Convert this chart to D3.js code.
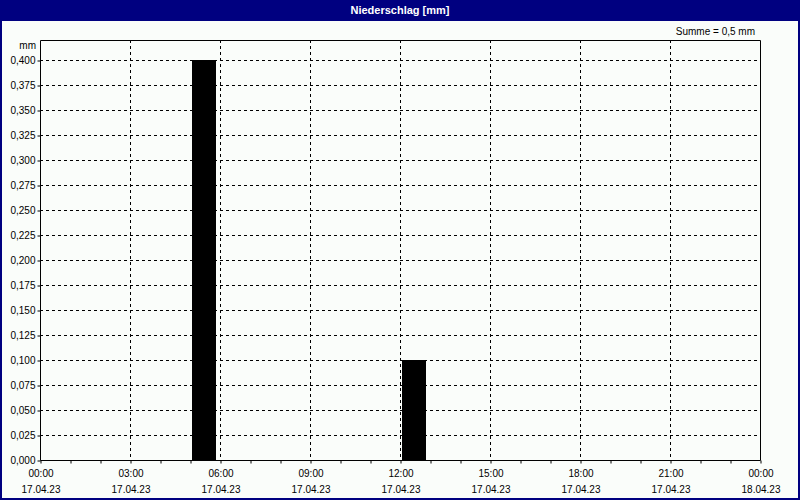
<!DOCTYPE html>
<html>
<head>
<meta charset="utf-8">
<script src="https://cdn.jsdelivr.net/npm/d3@7"></script>
<style>
  body { margin: 0; background: #fff; }
  svg { display: block; font-family: "Liberation Sans", Arial, sans-serif; }
</style>
</head>
<body>
<div id="chart"></div>
<script>
// precipitation per hour (start hour of interval, mm)
const barHours = [5, 12];
const barValues = [0.4, 0.1];

const yTicks = d3.range(0, 0.4001, 0.025);
const xTickHours = [0, 3, 6, 9, 12, 15, 18, 21, 24];
const xTimeLabels = ["00:00", "03:00", "06:00", "09:00", "12:00", "15:00", "18:00", "21:00", "00:00"];
const xDateLabels = ["17.04.23", "17.04.23", "17.04.23", "17.04.23", "17.04.23", "17.04.23", "17.04.23", "17.04.23", "18.04.23"];

const title = "Niederschlag [mm]";
const sumLabel = "Summe = 0,5 mm";
const unitLabel = "mm";

const W = 800, H = 500;
const plot = { left: 40, top: 40, right: 760, bottom: 460 };

const svg = d3.select("#chart").append("svg")
  .attr("width", W)
  .attr("height", H);

/* background + frame */
svg.append("rect")
  .attr("x", 0).attr("y", 0).attr("width", W).attr("height", H)
  .attr("fill", "#fafdfa");
svg.append("rect")
  .attr("x", 1).attr("y", 1).attr("width", W - 2).attr("height", H - 2)
  .attr("fill", "none").attr("stroke", "#000080").attr("stroke-width", 2);

/* title bar */
svg.append("rect")
  .attr("x", 0).attr("y", 0).attr("width", W).attr("height", 21)
  .attr("fill", "#000080");
svg.append("text")
  .attr("x", W / 2).attr("y", 14)
  .attr("text-anchor", "middle")
  .attr("fill", "#fff")
  .attr("font-size", "11px")
  .attr("font-weight", "bold")
  .text(title);

const x = d3.scaleLinear().domain([0, 24]).range([plot.left, plot.right]);
const y = d3.scaleLinear().domain([0, 0.42]).range([plot.bottom, plot.top]);

const fmt = (v) => d3.format(".3f")(v).replace(".", ",");

/* grid */
const grid = svg.append("g").attr("class", "grid")
  .attr("stroke", "#000").attr("stroke-width", 1)
  .attr("stroke-dasharray", "3,3");

grid.selectAll(".hgrid")
  .data(yTicks.filter(d => d > 0))
  .enter().append("line")
    .attr("class", "hgrid")
    .attr("x1", plot.left).attr("x2", plot.right)
    .attr("y1", d => Math.round(y(d)) + 0.5)
    .attr("y2", d => Math.round(y(d)) + 0.5);

grid.selectAll(".vgrid")
  .data(xTickHours.filter(d => d > 0 && d < 24))
  .enter().append("line")
    .attr("class", "vgrid")
    .attr("x1", d => Math.round(x(d)) + 0.5)
    .attr("x2", d => Math.round(x(d)) + 0.5)
    .attr("y1", plot.top).attr("y2", plot.bottom);

/* bars */
const hourW = x(1) - x(0);
svg.append("g").attr("class", "bars")
  .selectAll("rect")
  .data(barHours.map((h, i) => ({ h: h, v: barValues[i] })))
  .enter().append("rect")
    .attr("x", d => x(d.h) + 2)
    .attr("width", hourW * 0.8)
    .attr("y", d => y(d.v))
    .attr("height", d => y(0) - y(d.v))
    .attr("fill", "#000");

/* plot frame */
svg.append("path")
  .attr("d", `M${plot.left + 0.5},${plot.bottom + 0.5}V${plot.top + 0.5}H${plot.right + 0.5}V${plot.bottom + 0.5}H${plot.left + 0.5}`)
  .attr("fill", "none").attr("stroke", "#000");

/* y axis */
const yAxis = svg.append("g")
  .attr("transform", `translate(${plot.left + 0.5},0.5)`)
  .call(d3.axisLeft(y).tickValues(yTicks).tickFormat(fmt).tickSize(3).tickPadding(2));
yAxis.select(".domain").remove();
yAxis.selectAll("text").attr("font-size", "10px").attr("font-family", "Liberation Sans, Arial, sans-serif").attr("fill", "#000");

svg.append("text")
  .attr("x", plot.left - 4).attr("y", plot.top + 9)
  .attr("text-anchor", "end")
  .attr("font-size", "10px")
  .text(unitLabel);

/* x axis: hourly minor ticks */
const xAxis = svg.append("g")
  .attr("transform", `translate(0.5,${plot.bottom + 0.5})`)
  .call(d3.axisBottom(x).tickValues(d3.range(0, 25)).tickFormat("").tickSize(3));
xAxis.select(".domain").remove();

const xl = svg.append("g").attr("class", "xlabels")
  .attr("font-size", "10px").attr("text-anchor", "middle");
xl.selectAll(".t")
  .data(xTickHours)
  .enter().append("text")
    .attr("class", "t")
    .attr("x", d => x(d) + 1)
    .attr("y", 477)
    .text((d, i) => xTimeLabels[i]);
xl.selectAll(".d")
  .data(xTickHours)
  .enter().append("text")
    .attr("class", "d")
    .attr("x", d => x(d) + 1)
    .attr("y", 493)
    .text((d, i) => xDateLabels[i]);

/* sum */
svg.append("text")
  .attr("x", 755).attr("y", 35)
  .attr("text-anchor", "end")
  .attr("font-size", "10px")
  .text(sumLabel);
</script>
</body>
</html>
